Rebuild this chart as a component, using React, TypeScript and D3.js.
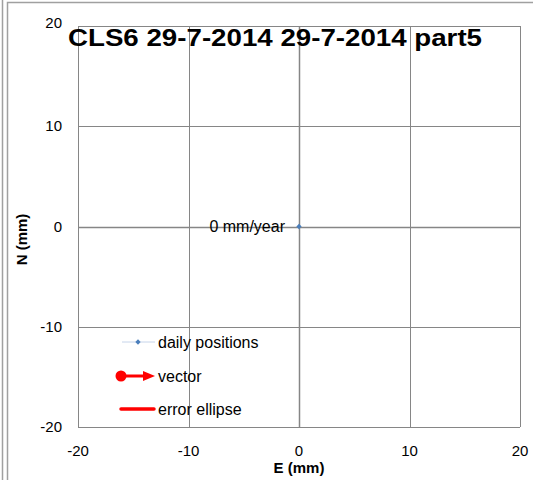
import * as d3 from "d3";
import { useEffect, useRef } from "react";

const title = "CLS6 29-7-2014 29-7-2014 part5";
const xTicks = [-20, -10, 0, 10, 20];
const yTicks = [-20, -10, 0, 10, 20];
const dailyE = [0];
const dailyN = [0];
const velocityLabel = "0 mm/year";
const legendItems = ["daily positions", "vector", "error ellipse"];

export default function App() {
  const ref = useRef<SVGSVGElement>(null);

  useEffect(() => {
    const svg = d3.select(ref.current);
    svg.selectAll("*").remove(); // reset

    const font = "'Liberation Sans', Arial, sans-serif";
    const x = d3.scaleLinear().domain([-20, 20]).range([78, 520]);
    const y = d3.scaleLinear().domain([-20, 20]).range([427, 26]);
    const diamond = d3.symbol(d3.symbolSquare, 14);

    // outer frame
    svg.append("rect").attr("width", 533).attr("height", 480).attr("fill", "#fff");
    svg.append("line").attr("x1", 2.5).attr("x2", 2.5).attr("y1", 0).attr("y2", 480)
      .attr("stroke", "#a0a0a0").attr("stroke-width", 1.5);
    svg.append("path").attr("d", "M7.5,480V2.5H533")
      .attr("fill", "none").attr("stroke", "#a0a0a0").attr("stroke-width", 1.5);

    // grid
    const grid = svg.append("g").attr("stroke", "#868686").attr("stroke-width", 1);
    grid.selectAll("line.v").data(xTicks).join("line")
      .attr("x1", (d) => Math.round(x(d)) + 0.5).attr("x2", (d) => Math.round(x(d)) + 0.5)
      .attr("y1", y(20)).attr("y2", y(-20))
      .attr("stroke-width", (d) => (d === 0 ? 1.5 : 1));
    grid.selectAll("line.h").data(yTicks).join("line")
      .attr("y1", (d) => Math.round(y(d)) + 0.5).attr("y2", (d) => Math.round(y(d)) + 0.5)
      .attr("x1", x(-20)).attr("x2", x(20))
      .attr("stroke-width", (d) => (d === 0 ? 1.5 : 1));

    // tick labels
    svg.append("g").selectAll("text").data(xTicks).join("text")
      .attr("x", (d) => x(d)).attr("y", 456)
      .attr("text-anchor", "middle")
      .attr("font-family", font).attr("font-size", 15)
      .text((d) => d);
    svg.append("g").selectAll("text").data(yTicks).join("text")
      .attr("x", 62).attr("y", (d) => y(d) + 5)
      .attr("dy", (d) => (d === 20 ? -3 : 0))
      .attr("text-anchor", "end")
      .attr("font-family", font).attr("font-size", 15)
      .text((d) => d);

    // axis titles
    svg.append("text").attr("x", x(0)).attr("y", 473)
      .attr("text-anchor", "middle").attr("font-family", font)
      .attr("font-size", 15).attr("font-weight", "bold").text("E (mm)");
    svg.append("text")
      .attr("transform", `translate(27,${y(0) + 13}) rotate(-90)`)
      .attr("text-anchor", "middle").attr("font-family", font)
      .attr("font-size", 15).attr("font-weight", "bold").text("N (mm)");

    // title
    svg.append("text").attr("x", 68).attr("y", 46)
      .attr("font-family", font).attr("font-size", 23).attr("font-weight", "bold")
      .attr("textLength", 414).attr("lengthAdjust", "spacingAndGlyphs")
      .text(title);

    // data points
    svg.append("g").selectAll("path").data(dailyE).join("path")
      .attr("d", diamond)
      .attr("transform", (d, i) => `translate(${x(d)},${y(dailyN[i])}) rotate(45)`)
      .attr("fill", "#4a7ebb");
    svg.append("text").attr("x", x(0) - 14).attr("y", y(0) + 5)
      .attr("text-anchor", "end").attr("font-family", font).attr("font-size", 16)
      .text(velocityLabel);

    // legend
    const lg = svg.append("g");
    const ly = [342, 376, 409];
    lg.append("line").attr("x1", 122).attr("x2", 155).attr("y1", ly[0]).attr("y2", ly[0])
      .attr("stroke", "#c6d4ea").attr("stroke-width", 1);
    lg.append("path").attr("d", diamond)
      .attr("transform", `translate(138,${ly[0]}) rotate(45)`).attr("fill", "#4a7ebb");
    lg.append("circle").attr("cx", 121).attr("cy", ly[1]).attr("r", 5.5).attr("fill", "#ff0000");
    lg.append("line").attr("x1", 121).attr("x2", 145).attr("y1", ly[1]).attr("y2", ly[1])
      .attr("stroke", "#ff0000").attr("stroke-width", 3);
    lg.append("path").attr("d", `M143,${ly[1] - 5}L155,${ly[1]}L143,${ly[1] + 5}Z`)
      .attr("fill", "#ff0000");
    lg.append("line").attr("x1", 121).attr("x2", 154).attr("y1", ly[2]).attr("y2", ly[2])
      .attr("stroke", "#ff0000").attr("stroke-width", 3.5).attr("stroke-linecap", "round");
    lg.selectAll("text").data(legendItems).join("text")
      .attr("x", 158).attr("y", (d, i) => ly[i] + 5.5)
      .attr("font-family", font).attr("font-size", 16)
      .text((d) => d);
  }, []);

  return (
    <svg
      ref={ref}
      width={533}
      height={480}
      style={{ position: "absolute", left: 0, top: 0, display: "block" }}
    />
  );
}
